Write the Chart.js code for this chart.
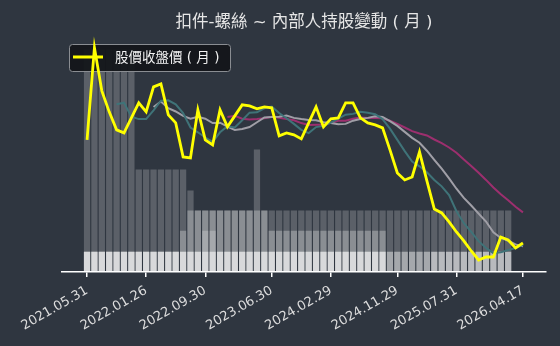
<!DOCTYPE html>
<html>
<head>
<meta charset="utf-8">
<script src="https://cdn.jsdelivr.net/npm/chart.js@4"></script>
<style>
  html, body { margin: 0; padding: 0; background: #2f3640; }
</style>
</head>
<body>
<canvas id="grafico" width="560" height="346"></canvas>
<script>
// meses (categorias), um ponto por mês
const meses = [
  "2021.05","2021.06","2021.07","2021.08","2021.09","2021.10","2021.11","2021.12",
  "2022.01","2022.02","2022.03","2022.04","2022.05","2022.06","2022.07","2022.08","2022.09","2022.10","2022.11","2022.12",
  "2023.01","2023.02","2023.03","2023.04","2023.05","2023.06","2023.07","2023.08","2023.09","2023.10","2023.11","2023.12",
  "2024.01","2024.02","2024.03","2024.04","2024.05","2024.06","2024.07","2024.08","2024.09","2024.10","2024.11","2024.12",
  "2025.01","2025.02","2025.03","2025.04","2025.05","2025.06","2025.07","2025.08","2025.09","2025.10","2025.11","2025.12",
  "2026.01","2026.02","2026.03","2026.04"
];

const tickIndices = [0, 8, 16, 25, 33, 42, 50, 59];
const tickLabels = ["2021.05.31","2022.01.26","2022.09.30","2023.06.30","2024.02.29","2024.11.29","2025.07.31","2026.04.17"];

// 股價收盤價(月)
const preco = [40,63,52.25,47,42.5,41.75,45.5,49.25,47,53.25,54,46.25,44.25,35.75,35.5,47.5,40,38.75,47.5,43.25,
  46,48.75,48.5,47.75,48.25,48,41,41.75,41.25,40.25,44.25,48.25,43.25,45.25,45.5,49.25,49.25,45.5,44.25,43.75,
  43,37.5,31.75,30,30.75,37,29.75,22.75,21.75,19.5,17,14.75,12.25,10,10.75,10.75,15.75,15,13,14.25];

// médias, começam mais tarde
const media5 = [null,null,null,null,48.9,49.3,45.8,45.2,45.2,47.4,49.8,49.9,48.9,46.7,43.1,41.9,40.6,39.5,41.9,43.4,
  43.1,44.9,46.8,46.9,47.9,48.3,46.7,45.4,44,42.5,41.7,43.2,43.5,44.3,45.3,46.3,46.5,47,46.8,46.4,
  45.2,42.8,40,37.2,34.6,33.4,31.9,30,28.4,26.2,22.2,19.2,17,14.7,13,11.7,11.9,12.5,13,13.8];
const media10 = [null,null,null,null,null,null,null,null,null,48.2,49.6,47.9,47.1,46,45.3,45.8,45.3,44.2,44.3,43.3,
  42.5,42.7,43.2,44.4,45.6,45.7,45.8,46.1,45.5,45.2,45,44.9,44.4,44.2,43.9,44,44.8,45.2,45.5,45.9,
  45.7,44.7,43.5,42,40.5,39.3,37.3,35,32.8,30.4,27.8,25.5,23.6,21.6,19.6,16.9,15.5,14.8,13.9,13.4];
const media20 = [null,null,null,null,null,null,null,null,null,null,null,null,null,null,null,null,null,null,null,45.7,
  46,45.3,45.1,45.2,45.4,45.8,45.5,45.2,44.9,44.2,43.7,43.8,43.8,44.3,44.8,44.8,45.3,45.6,45.5,45.5,
  45.4,44.8,44,43.1,42.2,41.6,41.1,40.1,39.2,38.1,36.8,35.1,33.5,31.8,30,28.1,26.4,24.9,23.3,21.9];

// 持股 (%) por mês, 58 meses; as camadas translúcidas se sobrepõem
const camadaA = [55.5,55.5,55.5,55.5,55.5,55.5,55.5,25.5,25.5,25.5,25.5,25.5,25.5,25.5,20.25,15.3,15.3,15.3,15.3,15.3,
  15.3,15.3,15.3,30.5,15.3,15.3,15.3,15.3,15.3,15.3,15.3,15.3,15.3,15.3,15.3,15.3,15.3,15.3,15.3,15.3,
  15.3,15.3,15.3,15.3,15.3,15.3,15.3,15.3,15.3,15.3,15.3,15.3,15.3,15.3,15.3,15.3,15.3,15.3];
const camadaB = [5,5,5,5,5,5,5,5,5,5,5,5,5,10.25,15.25,15.25,15.25,15.25,15.25,15.25,
  15.25,15.25,15.25,15.25,15.25,10.25,10.25,10.25,10.25,10.25,10.25,10.25,10.25,10.25,10.25,10.25,10.25,10.25,10.25,10.25,
  10.25,5,5,5,5,5,5,0,0,0,0,0,0,0,0,0,0,0];
const camadaC = [5,5,5,5,5,5,5,5,5,5,5,5,5,5,5,5,10.25,10.25,5,5,
  5,5,5,5,5,5,5,5,5,5,5,5,5,5,5,5,5,5,5,5,
  5,5,5,5,5,5,5,0,0,0,0,0,0,0,0,0,0,0];
const camadaE = [5,5,5,5,5,5,5,5,5,5,5,5,5,5,5,5,5,5,5,5,
  5,5,5,5,5,5,5,5,5,5,5,5,5,5,5,5,5,5,5,5,
  5,0,0,0,0,0,0,5,5,5,5,5,5,5,5,5,5,5];

function pontos(valores) {
  return valores.map((v, i) => ({ x: i, y: v }));
}

function barras(label, valores, cor, ordem) {
  return {
    type: "bar", label: label, data: pontos(valores), yAxisID: "yBarra",
    backgroundColor: cor, barThickness: 5.6, grouped: false, order: ordem,
  };
}

function linha(label, valores, cor, largura, ordem) {
  return {
    type: "line", label: label, data: pontos(valores), yAxisID: "yPreco",
    borderColor: cor, borderWidth: largura, pointRadius: 0, order: ordem,
  };
}

const legendaBox = {
  id: "legendaBox",
  beforeDraw(chart) {
    const ctx = chart.ctx;
    ctx.save();
    ctx.fillStyle = "#2f3640";
    ctx.fillRect(0, 0, chart.width, chart.height);
    ctx.restore();
  },
  afterDatasetDraw(chart, args) {
    if (args.index !== 4) return;
    const ctx = chart.ctx;
    ctx.save();
    ctx.beginPath();
    ctx.roundRect(69.5, 44.5, 161, 27, 3);
    ctx.fillStyle = "rgba(20,22,26,0.95)";
    ctx.fill();
    ctx.strokeStyle = "#8a8d92";
    ctx.lineWidth = 1;
    ctx.stroke();
    ctx.beginPath();
    ctx.moveTo(73, 57);
    ctx.lineTo(103, 57);
    ctx.strokeStyle = "#ffff00";
    ctx.lineWidth = 3;
    ctx.stroke();
    ctx.fillStyle = "#f2f2f2";
    ctx.font = "13.5px 'DejaVu Sans', 'Noto Sans CJK TC'";
    ctx.textBaseline = "middle";
    ctx.fillText("股價收盤價 ( 月 )", 115, 58);
    ctx.restore();
  },
};

const elemento = document.getElementById("grafico");

const grafico = new Chart(elemento, {
  data: {
    datasets: [
      linha("股價收盤價(月)", preco, "#ffff00", 2.8, 0),
      linha("MA5", media5, "#3f7378", 2, 1),
      linha("MA10", media10, "#a09fa7", 2, 2),
      linha("MA20", media20, "#9c2f6e", 2, 3),
      barras("E", camadaE, "rgba(255,255,255,0.567)", 10),
      barras("C", camadaC, "rgba(255,255,255,0.23)", 11),
      barras("B", camadaB, "rgba(255,255,255,0.29)", 12),
      barras("A", camadaA, "rgba(255,255,255,0.21)", 13),
    ],
  },
  options: {
    responsive: false,
    animation: false,
    devicePixelRatio: 1,
    layout: { autoPadding: false, padding: { left: 62, right: 14, top: 0, bottom: 0 } },
    plugins: {
      legend: { display: false },
      tooltip: { enabled: false },
      title: {
        display: true,
        text: "扣件-螺絲 ~ 內部人持股變動 ( 月 )",
        color: "#e6e6e6",
        font: { family: "'DejaVu Sans', 'Noto Sans CJK TC'", size: 16.5, weight: "normal", lineHeight: 1.14 },
        padding: { top: 13, bottom: 0 },
      },
    },
    scales: {
      x: {
        type: "linear",
        offset: false,
        min: -3.39,
        max: 62.12,
        afterBuildTicks: (scale) => {
          scale.ticks = tickIndices.map((v) => ({ value: v }));
        },
        afterFit: (scale) => {
          scale.height = 74;
        },
        ticks: {
          autoSkip: false,
          minRotation: 30,
          maxRotation: 30,
          color: "#dcdcdc",
          font: { family: "'DejaVu Sans'", size: 13 },
          padding: 6,
          callback: (v) => tickLabels[tickIndices.indexOf(v)],
        },
        grid: { offset: false, drawOnChartArea: false, drawTicks: true, tickLength: 5, tickColor: "#ffffff", lineWidth: 1.5 },
        border: { display: true, color: "#ffffff", width: 1.5 },
      },
      yPreco: { type: "linear", display: false, min: 7, max: 67 },
      yBarra: { type: "linear", display: false, min: 0, max: 60 },
    },
  },
  plugins: [legendaBox],
});
</script>
</body>
</html>
